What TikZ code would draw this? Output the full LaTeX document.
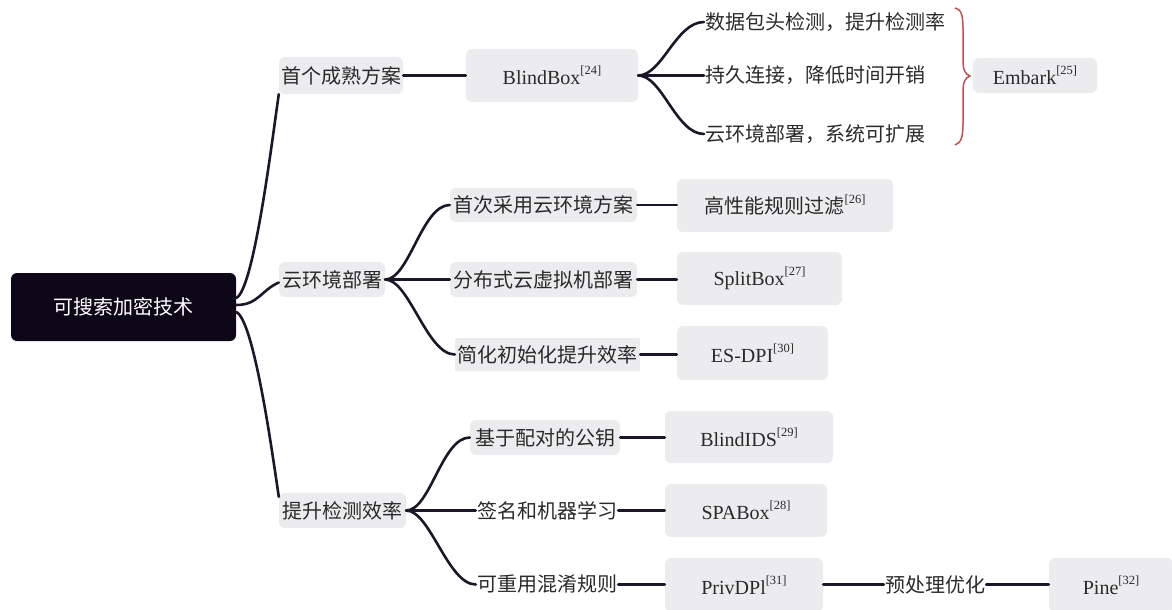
\documentclass[tikz,border=0pt]{standalone}
\usepackage{fontspec}
\setmainfont{Liberation Serif}
\newfontfamily\cjk{Noto Sans CJK SC}
\definecolor{boxc}{HTML}{ECECEF}
\definecolor{rootc}{HTML}{0E0718}
\definecolor{linec}{HTML}{1C1628}
\definecolor{txt}{HTML}{2A2A2A}
\definecolor{bracec}{HTML}{C0504D}
\newcommand{\zh}[1]{{\cjk #1}}
\newcommand{\refn}[1]{\raisebox{0.5em}{\fontsize{12.5}{13}\selectfont[#1]}}
\begin{document}
\begin{tikzpicture}[x=1pt,y=-1pt,
  every node/.style={font=\fontsize{20}{22}\selectfont, text=txt, inner sep=1pt},
  box/.style={fill=boxc, rounded corners=6pt, align=center},
  plain/.style={inner sep=1pt},
  rootbox/.style={fill=rootc, rounded corners=6pt, text=white},
  link/.style={draw=linec, line width=2.6pt, line cap=round},
  bracestyle/.style={draw=bracec, line width=1.5pt}]
\useasboundingbox (0,0) rectangle (1172,610);

% root
\node[rootbox, minimum width=225, minimum height=68] (root) at (123.5,307) {\zh{可搜索加密技术}};

% first level
\node[box, minimum width=124, minimum height=37] (a1) at (341,75.5) {\zh{首个成熟方案}};
\node[box, minimum width=106, minimum height=35] (a2) at (332,279.5) {\zh{云环境部署}};
\node[box, minimum width=127, minimum height=35] (a3) at (342.5,510.5) {\zh{提升检测效率}};

% branch 1
\node[box, minimum width=172, minimum height=53] (bb) at (552,75.5) {BlindBox\refn{24}};
\node[plain, anchor=west] (t1) at (704,22) {\zh{数据包头检测，提升检测率}};
\node[plain, anchor=west] (t2) at (704,75.5) {\zh{持久连接，降低时间开销}};
\node[plain, anchor=west] (t3) at (704,134) {\zh{云环境部署，系统可扩展}};
\node[box, minimum width=124, minimum height=35] (emb) at (1035,75.5) {Embark\refn{25}};

% branch 2
\node[box, minimum width=187, minimum height=34] (b1) at (543.5,205) {\zh{首次采用云环境方案}};
\node[box, minimum width=187, minimum height=35] (b2) at (543.5,279.5) {\zh{分布式云虚拟机部署}};
\node[box, rounded corners=1pt, minimum width=185, minimum height=33] (b3) at (547.5,354.5) {\zh{简化初始化提升效率}};
\node[box, minimum width=216, minimum height=53] (c1) at (785,205.5) {\zh{高性能规则过滤}\refn{26}};
\node[box, minimum width=165, minimum height=53] (c2) at (759.5,278.5) {SplitBox\refn{27}};
\node[box, minimum width=151, minimum height=54] (c3) at (752.5,353) {ES-DPI\refn{30}};

% branch 3
\node[box, minimum width=150, minimum height=35] (d1) at (545,437.5) {\zh{基于配对的公钥}};
\node[plain, minimum width=140] (d2) at (547,510.5) {\zh{签名和机器学习}};
\node[plain, minimum width=140] (d3) at (547,584.5) {\zh{可重用混淆规则}};
\node[box, minimum width=168, minimum height=52] (e1) at (749,437) {BlindIDS\refn{29}};
\node[box, minimum width=162, minimum height=53] (e2) at (746,510.5) {SPABox\refn{28}};
\node[box, minimum width=158, minimum height=54] (e3) at (744,585) {PrivDPl\refn{31}};
\node[plain, minimum width=100] (pre) at (935,584.5) {\zh{预处理优化}};
\node[box, minimum width=124, minimum height=54] (pine) at (1111,585) {Pine\refn{32}};

% root connectors
\draw[link] ([yshift=9pt]root.east) .. controls +(18,-8) and +(-6,40) .. (a1.south west);
\draw[link] ([yshift=2pt]root.east) .. controls +(22,0) and +(-18,8) .. ([yshift=-3pt]a2.west);
\draw[link] ([yshift=-5pt]root.east) .. controls +(18,8) and +(-6,-40) .. ([yshift=-4pt]a3.north west);

% branch 1 connectors
\draw[link] (a1.east) -- (a1.east -| bb.west);
\draw[link] (bb.east) .. controls +(24,0) and +(-28,0) .. (t1.west);
\draw[link] (bb.east) -- (bb.east -| t2.west);
\draw[link] (bb.east) .. controls +(24,0) and +(-28,0) .. (t3.west);
\draw[bracestyle] (955,8) .. controls (961,9) and (963,15) .. (963,28) -- (963,60)
  .. controls (963,70) and (965,74) .. (970,76)
  .. controls (965,78) and (963,82) .. (963,92) -- (963,124)
  .. controls (963,137) and (961,143) .. (955,145);

% branch 2 connectors
\draw[link] (a2.east) .. controls +(24,0) and +(-28,0) .. (b1.west);
\draw[link] (a2.east) -- (a2.east -| b2.west);
\draw[link] (a2.east) .. controls +(24,0) and +(-28,0) .. (b3.west);
\draw[link] (b1.east) -- (b1.east -| c1.west);
\draw[link] (b2.east) -- (b2.east -| c2.west);
\draw[link] (b3.east) -- (b3.east -| c3.west);

% branch 3 connectors
\draw[link] (a3.east) .. controls +(24,0) and +(-28,0) .. (d1.west);
\draw[link] (a3.east) -- (a3.east -| d2.west);
\draw[link] (a3.east) .. controls +(24,0) and +(-28,0) .. (d3.west);
\draw[link] (d1.east) -- (d1.east -| e1.west);
\draw[link] (d2.east) -- (d2.east -| e2.west);
\draw[link] (d3.east) -- (d3.east -| e3.west);
\draw[link] (e3.east |- pre.west) -- (pre.west);
\draw[link] (pre.east) -- (pre.east -| pine.west);
\end{tikzpicture}
\end{document}
